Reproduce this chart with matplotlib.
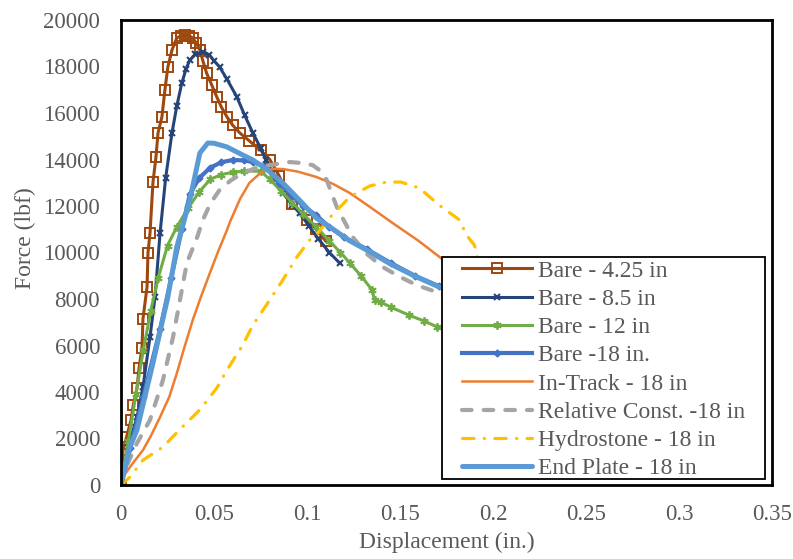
import matplotlib
matplotlib.use("Agg")
import matplotlib.pyplot as plt
import matplotlib.ticker as tk
from matplotlib.patches import Rectangle

text_color = "#595959"
serif_font = "Liberation Serif"

# Bare - 4.25 in
bare425_x = [0, 0.0011, 0.003, 0.0054, 0.0066, 0.0086, 0.0097, 0.0113, 0.0118, 0.014, 0.0145, 0.0156,
             0.0172, 0.0188, 0.0199, 0.022, 0.0236, 0.0252, 0.0274, 0.030, 0.0322, 0.0343, 0.0365, 0.0386,
             0.0405, 0.0424, 0.044, 0.046, 0.0488, 0.0515, 0.054, 0.057, 0.060, 0.0639, 0.069, 0.075,
             0.080, 0.085, 0.092, 0.100, 0.105, 0.110]
bare425_y = [0, 1500, 2060, 2800, 3440, 4170, 5030, 5890, 7140, 8520, 9980, 10840,
             13030, 14110, 15140, 15830, 16990, 17980, 18710, 19230, 19320, 19350, 19320, 19230,
             19000, 18710, 18250, 17720, 17200, 16690, 16250, 15830, 15480, 15140, 14800, 14400,
             14000, 13300, 12100, 11400, 11000, 10500]

# Bare - 8.5 in
bare85_x = [0, 0.0038, 0.0086, 0.0118, 0.0156, 0.0183, 0.021, 0.024, 0.0274, 0.030, 0.0327, 0.035,
            0.037, 0.040, 0.044, 0.0475, 0.050, 0.053, 0.057, 0.0623, 0.0665, 0.0709, 0.075, 0.078,
            0.083, 0.087, 0.092, 0.096, 0.101, 0.106, 0.112, 0.1175]
bare85_y = [0, 1630, 2920, 4200, 6370, 8090, 10840, 13200, 15140, 16300, 17290, 17900,
            18280, 18520, 18620, 18500, 18250, 17980, 17450, 16690, 15900, 15140, 14500, 13980,
            13200, 12560, 12050, 11700, 11150, 10600, 10000, 9550]

# Bare - 12 in
bare12_x = [0, 0.004, 0.008, 0.012, 0.016, 0.020, 0.025, 0.030, 0.036, 0.042, 0.048, 0.054, 0.060,
            0.066, 0.075, 0.080, 0.086, 0.092, 0.098, 0.105, 0.112, 0.118, 0.123, 0.129, 0.135,
            0.1363, 0.140, 0.145, 0.155, 0.163, 0.170, 0.180, 0.190]
bare12_y = [0, 1900, 3900, 5800, 7500, 8900, 10300, 11100, 11900, 12600, 13150, 13350, 13450,
            13500, 13500, 13150, 12650, 12150, 11650, 11100, 10500, 10000, 9550, 9000, 8390,
            7960, 7850, 7650, 7300, 7050, 6800, 6500, 6300]

# Bare -18 in.
bare18_x = [0, 0.005, 0.012, 0.021, 0.027, 0.0327, 0.037, 0.042, 0.048, 0.054, 0.060, 0.066, 0.0709,
            0.078, 0.085, 0.092, 0.098, 0.105, 0.112, 0.120, 0.132, 0.145, 0.158, 0.171, 0.180]
bare18_y = [0, 1600, 3800, 6700, 8900, 11000, 12500, 13200, 13650, 13880, 13980, 13960, 13890,
            13680, 13000, 12450, 12000, 11600, 11100, 10650, 10150, 9550, 9000, 8550, 8300]

# In-Track - 18 in
intrack_x = [0, 0.001, 0.006, 0.0118, 0.016, 0.021, 0.026, 0.030, 0.034, 0.0386, 0.043, 0.0478,
             0.052, 0.057, 0.0585, 0.064, 0.069, 0.074, 0.078, 0.083, 0.087, 0.095, 0.105, 0.114,
             0.123, 0.134, 0.146, 0.160, 0.172, 0.182, 0.190]
intrack_y = [0, 340, 900, 1500, 2100, 2920, 3800, 4800, 5900, 7100, 8100, 9120,
             10000, 10970, 11300, 12300, 12990, 13350, 13550, 13600, 13590, 13480, 13250, 12950,
             12560, 11950, 11270, 10500, 9760, 9100, 8500]

# Relative Const. -18 in
relconst_x = [0, 0.002, 0.0086, 0.0156, 0.0225, 0.028, 0.0354, 0.041, 0.044, 0.048, 0.053, 0.059,
              0.0655, 0.072, 0.080, 0.0907, 0.097, 0.103, 0.1075, 0.1106, 0.113, 0.116, 0.1245,
              0.132, 0.1406, 0.150, 0.159, 0.171, 0.180]
relconst_y = [0, 640, 1800, 2800, 4500, 6370, 9550, 10670, 11400, 12100, 12690, 13100,
              13420, 13620, 13760, 13890, 13850, 13760, 13500, 13120, 12600, 11960, 10670,
              9950, 9380, 8950, 8600, 8260, 8000]

# Hydrostone - 18 in
hydro_x = [0, 0.0048, 0.0118, 0.0225, 0.033, 0.0424, 0.0515, 0.057, 0.0655, 0.0709, 0.080, 0.087,
           0.0945, 0.1015, 0.105, 0.112, 0.123, 0.1337, 0.1428, 0.1505, 0.1605, 0.171, 0.182,
           0.1857, 0.190, 0.192]
hydro_y = [0, 340, 1070, 1630, 2500, 3230, 4170, 4950, 6020, 6880, 7960, 8820,
           9800, 10540, 10750, 11480, 12390, 12860, 13030, 13030, 12770, 12040, 11400,
           10750, 10320, 9700]

# End Plate - 18 in
endplate_x = [0, 0.0048, 0.0086, 0.0172, 0.0252, 0.030, 0.037, 0.0424, 0.0467, 0.050, 0.057,
              0.064, 0.0709, 0.078, 0.087, 0.096, 0.105, 0.115, 0.123, 0.132, 0.145, 0.158,
              0.171, 0.180]
endplate_y = [0, 1630, 2370, 5250, 8090, 10240, 12260, 14280, 14710, 14700, 14540,
              14250, 13980, 13600, 12990, 12250, 11480, 10950, 10500, 10110, 9500, 8980,
              8520, 8250]

x_ticks = [0, 0.05, 0.1, 0.15, 0.2, 0.25, 0.3, 0.35]
y_ticks = list(range(0, 20001, 2000))

fig = plt.figure(figsize=(7.93, 5.59), dpi=100)
ax = fig.add_axes([121 / 793, 74 / 559, 651 / 793, 465 / 559])

ax.plot(bare425_x, bare425_y, color="#9E480E", lw=2.2, marker="s", ms=6.5,
        mfc="none", mec="#9E480E", mew=1.4, label="Bare - 4.25 in")
ax.plot(bare85_x, bare85_y, color="#264478", lw=2.2, marker="x", ms=5,
        mew=1.5, label="Bare - 8.5 in")
ax.plot(bare12_x, bare12_y, color="#70AD47", lw=2.2, marker=(6, 2, 0), ms=6,
        mew=1.3, label="Bare - 12 in")
ax.plot(bare18_x, bare18_y, color="#4472C4", lw=3.0, marker="D", ms=3.5,
        label="Bare -18 in.")
ax.plot(intrack_x, intrack_y, color="#ED7D31", lw=1.8, label="In-Track - 18 in")
ax.plot(relconst_x, relconst_y, color="#A5A5A5", lw=3.0, ls=(0, (2.3, 2.9)),
        dash_capstyle="round", label="Relative Const. -18 in")
ax.plot(hydro_x, hydro_y, color="#FFC000", lw=2.3, ls=(0, (3.6, 3.2, 0.1, 3.2)),
        dash_capstyle="round", label="Hydrostone - 18 in")
ax.plot(endplate_x, endplate_y, color="#5B9BD5", lw=3.6, solid_capstyle="round",
        label="End Plate - 18 in")

ax.set_xlim(0, 0.35)
ax.set_ylim(0, 20000)
ax.set_xticks(x_ticks)
ax.set_yticks(y_ticks)
ax.xaxis.set_major_formatter(tk.FuncFormatter(lambda v, p: "%g" % v))
ax.tick_params(length=0, labelsize=16.5, labelcolor=text_color)
ax.tick_params(axis="x", pad=14)
ax.tick_params(axis="y", pad=15)
for lab in ax.get_xticklabels() + ax.get_yticklabels():
    lab.set_fontfamily(serif_font)

for s in ax.spines.values():
    s.set_color("black")
    s.set_linewidth(2)

ax.set_xlabel("Displacement (in.)", fontname=serif_font, fontsize=17, color=text_color)
ax.set_ylabel("Force (lbf)", fontname=serif_font, fontsize=17, color=text_color)
ax.xaxis.set_label_coords(0.5008, -0.101)
ax.yaxis.set_label_coords(-0.13, 0.531)

# legend box (white, thin black border) drawn behind the legend entries
box = Rectangle((442 / 793, 1 - 479 / 559), 323 / 793, 222 / 559, transform=fig.transFigure,
                facecolor="white", edgecolor="black", lw=1.3, zorder=4.5)
ax.add_patch(box)
box.set_clip_on(False)

leg = ax.legend(loc="upper left", bbox_to_anchor=(462 / 793, 1 - 260 / 559),
                bbox_transform=fig.transFigure, borderaxespad=0, borderpad=0,
                prop={"family": serif_font, "size": 17}, labelcolor=text_color,
                handlelength=2.95, handletextpad=0.25, labelspacing=0.285, numpoints=1,
                frameon=False)

fig.savefig("out.png", dpi=100, facecolor="white")
